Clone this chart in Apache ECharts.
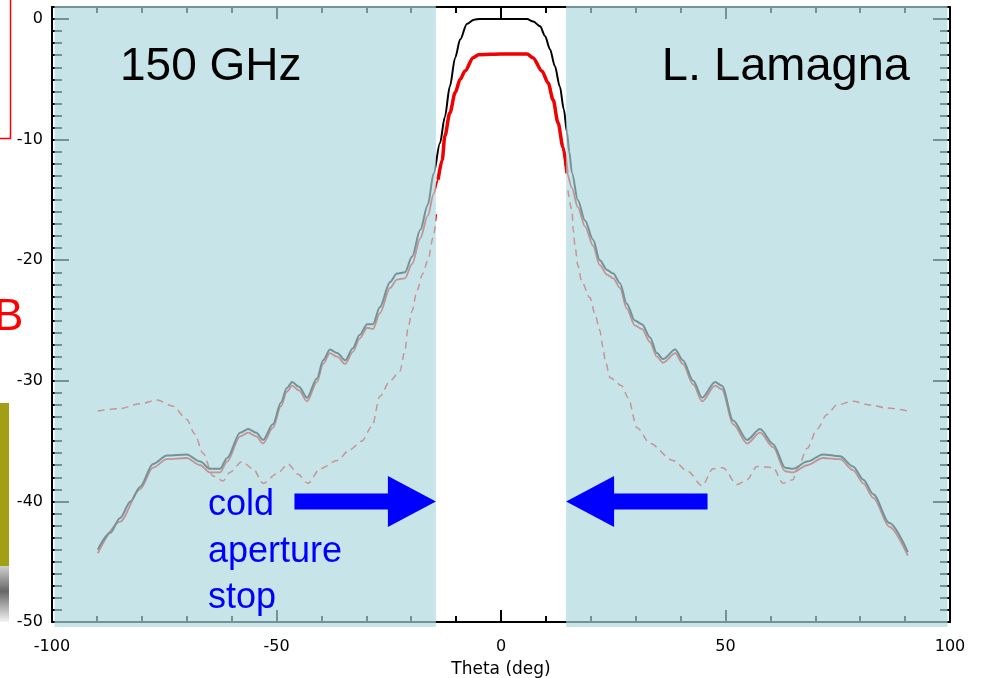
<!DOCTYPE html>
<html>
<head>
<meta charset="utf-8">
<title>150 GHz beam pattern</title>
<script src="https://cdn.jsdelivr.net/npm/echarts@6/dist/echarts.min.js"></script>
<style>
  html, body { margin: 0; padding: 0; background: #ffffff; }
  #chart { width: 984px; height: 678px; }
</style>
</head>
<body>
<div id="chart"></div>
<script>
// Angular range of the plot (deg) and power range (dB)
const thetaRange = [-100, 100];
const powerRange = [-50, 1];

// Full beam (black), angle in deg and power in dB
const thetaBlack = [
  -89.8, -87, -84.9, -82.5, -80.4, -77.5, -74.4, -70, -67, -64.8, -62.6, -61, -58.1, -56.3,
  -54.5, -53, -50.8, -49, -47.7, -46.5, -45, -43.2, -41, -39.6, -38.1, -36.5, -34.7, -33,
  -31.5, -29.8, -28.5, -27, -24.7, -23.2, -21.4, -19.8, -18, -16.3, -15, -13.6, -12.5, -11.4,
  -10.2, -9.1, -7.6, -6, -4.7, 0, 5.8, 7.2, 8.7, 9.8, 10.9, 12, 13.1, 14, 14.7, 15.2, 15.8,
  17.1, 18.7, 20.5, 22, 23.6, 25, 26.5, 28, 29.8, 31.4, 33.2, 34.7, 36.1, 38.8, 40.5, 42.8,
  44.8, 47.7, 49.2, 51.7, 54.8, 57.7, 60.6, 63.3, 65, 68.2, 71.7, 75.5, 78.4, 80.7, 82.9,
  86.5, 90.6
];
const powerBlack = [
  -44.0, -42.6, -41.4, -40.0, -38.8, -36.9, -36.2, -36.1, -36.7, -37.3, -37.3, -36.4, -34.3, -34.0,
  -34.3, -34.9, -33.6, -31.8, -30.6, -30.1, -30.5, -31.4, -29.8, -28.3, -27.4, -27.7, -28.3, -27.3,
  -26.2, -25.3, -25.3, -23.9, -21.8, -21.1, -21.0, -19.7, -17.5, -15.4, -12.8, -10.3, -8.1, -5.6,
  -3.2, -1.7, -0.4, -0.05, 0, 0, 0, -0.2, -0.6, -1.4, -2.5, -3.9, -5.6, -7.5, -9.4, -11.0, -12.75,
  -15.0, -16.7, -18.3, -20.0, -20.8, -21.1, -21.9, -23.6, -25.0, -25.3, -26.4, -27.7, -28.2, -27.4, -28.3, -30.0,
  -31.4, -30.1, -30.4, -33.3, -34.9, -34.0, -35.25, -37.2, -37.3, -36.7, -36.1, -36.25, -37.1, -38.2, -39.4,
  -41.8, -44.2
];

// Beam through the cold stop (red)
const thetaRed = [
  -89.8, -84.9, -80.4, -77.5, -74.4, -70, -67, -64.8, -62.6, -61, -58.1, -56.3, -54.5, -53,
  -50.8, -49, -47.7, -46.5, -45, -43.2, -41, -39.6, -38.1, -36.5, -34.7, -33, -31.5, -29.8,
  -28.5, -27, -24.7, -23.2, -21.4, -19.8, -18, -16.3, -15, -14, -13.1, -12.5, -11.4, -10.2,
  -9.1, -8, -6.2, -5, 0, 5.8, 7.1, 9.1, 10.5, 11.6, 12.7, 13.8, 14.7, 15.8, 17.1, 18.7, 20.5,
  22, 23.6, 25, 26.5, 28, 29.8, 31.4, 33.2, 34.7, 36.1, 38.8, 40.5, 42.8, 44.8, 47.7, 49.2,
  51.7, 54.8, 57.7, 60.6, 63.3, 65, 68.2, 71.7, 75.5, 78.4, 80.7, 82.9, 86.5, 90.6
];
const powerRed = [
  -44.3, -41.7, -39.0, -37.2, -36.5, -36.4, -37.0, -37.6, -37.6, -36.7, -34.6, -34.3, -34.6, -35.2,
  -33.9, -32.1, -30.9, -30.4, -30.8, -31.7, -30.1, -28.6, -27.7, -28.0, -28.6, -27.6, -26.5, -25.6,
  -25.7, -24.4, -22.3, -21.6, -21.5, -20.3, -18.2, -16.3, -14.5, -13.3, -11.7, -9.7, -7.8, -6.1,
  -5.0, -4.3, -3.2, -2.95, -2.9, -2.9, -3.2, -4.3, -5.3, -6.7, -8.6, -10.6, -12.8, -14.0, -15.6, -17.2, -18.8,
  -20.4, -21.2, -21.5, -22.3, -24.0, -25.4, -25.7, -26.8, -28.0, -28.5, -27.7, -28.6, -30.3, -31.7, -30.4, -30.7,
  -33.6, -35.2, -34.3, -35.5, -37.5, -37.6, -37.0, -36.4, -36.5, -37.4, -38.5, -39.7, -42.1, -44.5
];

// Dashed pattern, left side of the stop
const thetaDashedLeft = [
  -89.8, -84.9, -80.4, -76.6, -73, -70, -68.2, -66.4, -64.1, -61.9, -60.4, -57.7, -55.2, -53,
  -49.9, -47.4, -45.2, -43, -40.3, -36.5, -33.6, -31, -28.7, -27, -24.7, -22.5, -21.4, -20.7,
  -19.8, -18.7, -17.4, -16.3, -15.1, -14.3
];
const powerDashedLeft = [
  -32.5, -32.3, -31.9, -31.6, -32.1, -33.2, -34.4, -36.0, -37.9, -38.3, -37.6, -36.7, -37.3, -38.5,
  -37.7, -36.9, -37.75, -38.5, -37.3, -36.6, -35.7, -35.0, -33.75, -31.3, -30.0, -29.2, -27.5, -25.6,
  -24.2, -22.5, -21.1, -20.0, -18.1, -15.8
];

// Dashed pattern, right side of the stop
const thetaDashedRight = [
  14.9, 15.8, 16.1, 16.5, 17.1, 18, 19.8, 20.9, 22, 22.7, 23.2, 24.3, 26.9, 28.3, 30.3, 33.2,
  38.3, 41.6, 44.8, 47.2, 49.4, 52.6, 54.8, 57, 60.6, 62.8, 65, 66.1, 68.2, 70.4, 72.6, 74.8,
  78.4, 82.2, 86, 90.6
];
const powerDashedRight = [
  -14.2, -15.8, -17.5, -18.9, -20.4, -21.8, -23.1, -24.4, -25.8, -27.2, -28.3, -29.75, -30.4, -31.4, -33.9, -35.2,
  -36.6, -37.5, -38.7, -37.3, -37.2, -38.6, -38.2, -37.1, -37.2, -38.5, -38.2, -37.2, -35.6, -34.0, -32.8, -32.0,
  -31.7, -32.0, -32.25, -32.5
];

// Angles blocked by the cold aperture stop: [from, to] in deg
const stopRegions = [[-100, -14.5], [14.5, 100]];

// Arrows pointing at the stop edges: [tail angle, tip angle, power level]
const stopArrows = [[-46, -14.5, -40], [46, 14.5, -40]];

const pairs = (xs, ys) => xs.map((x, i) => [x, ys[i]]);
// red points that pass through the open part of the stop (drawn heavier)
const redOpen = pairs(thetaRed, powerRed).filter(p => Math.abs(p[0]) <= 14.7);

const chart = echarts.init(document.getElementById('chart'), null, { renderer: 'canvas' });

const axisLine = { show: true, onZero: false, lineStyle: { color: '#000', width: 2 } };
const noAxisLine = { show: false, onZero: false };
const tickStyle = { color: '#000', width: 2 };
const labelFont = { color: '#000', fontSize: 16, fontFamily: 'DejaVu Sans' };

function xAxisDef(position, withLabels) {
  return {
    type: 'value', position: position,
    min: thetaRange[0], max: thetaRange[1], interval: 50,
    axisLine: axisLine,
    axisTick: { show: true, inside: true, length: 12, lineStyle: tickStyle },
    minorTick: { show: true, splitNumber: 5, length: 6, lineStyle: tickStyle },
    splitLine: { show: false },
    axisLabel: withLabels ? Object.assign({ margin: 17 }, labelFont) : { show: false }
  };
}

function yAxisDef(position, interval, tickLen, withLine, withLabels) {
  return {
    type: 'value', position: position,
    min: powerRange[0], max: powerRange[1], interval: interval,
    axisLine: withLine ? axisLine : noAxisLine,
    axisTick: { show: true, inside: true, length: tickLen, lineStyle: tickStyle },
    splitLine: { show: false },
    axisLabel: withLabels
      ? Object.assign({ margin: 9, showMaxLabel: false,
          formatter: v => (v % 10 === 0 ? String(v) : '') }, labelFont)
      : { show: false }
  };
}

const xBottom = xAxisDef('bottom', true);
xBottom.name = 'Theta (deg)';
xBottom.nameLocation = 'middle';
xBottom.nameGap = 39;
xBottom.nameTextStyle = { color: '#000', fontSize: 17, fontFamily: 'DejaVu Sans' };

const lineBase = { type: 'line', z: 2, showSymbol: false, smooth: 0.3, smoothMonotone: 'x' };

const option = {
  animation: false,
  backgroundColor: '#ffffff',
  grid: { left: 52, right: 34, top: 7, bottom: 56, containLabel: false, outerBoundsMode: 'none' },
  xAxis: [xBottom, xAxisDef('top', false)],
  yAxis: [
    yAxisDef('left', 10, 17, true, true),
    yAxisDef('left', 1, 10, false, false),
    yAxisDef('right', 10, 17, true, false),
    yAxisDef('right', 1, 10, false, false)
  ],
  series: [
    Object.assign({}, lineBase, {
      name: 'dashed-left', data: pairs(thetaDashedLeft, powerDashedLeft),
      lineStyle: { color: '#ff0000', width: 1.5, type: [7, 5] }
    }),
    Object.assign({}, lineBase, {
      name: 'dashed-right', data: pairs(thetaDashedRight, powerDashedRight),
      lineStyle: { color: '#ff0000', width: 1.5, type: [7, 5] }
    }),
    Object.assign({}, lineBase, {
      name: 'red', data: pairs(thetaRed, powerRed),
      lineStyle: { color: '#f00000', width: 1.8 }
    }),
    Object.assign({}, lineBase, {
      name: 'black', data: pairs(thetaBlack, powerBlack),
      lineStyle: { color: '#000000', width: 2 }
    }),
    Object.assign({}, lineBase, {
      name: 'red-open', data: redOpen,
      lineStyle: { color: '#f00000', width: 3.5 }
    }),
    {
      // translucent cyan over the angles outside the cold stop
      name: 'stop', type: 'custom', z: 3, silent: true,
      data: stopRegions,
      renderItem: function (params, api) {
        const a0 = api.value(0), a1 = api.value(1);
        const p0 = api.coord([a0, powerRange[1]]);
        const p1 = api.coord([a1, powerRange[0]]);
        const x0 = p0[0] + (a0 <= thetaRange[0] ? 2.5 : 0);
        const x1 = p1[0] - (a1 >= thetaRange[1] ? 2.5 : 0);
        const y0 = p0[1] - 1;
        const y1 = p1[1] + 5;
        return {
          type: 'rect',
          shape: { x: x0, y: y0, width: x1 - x0, height: y1 - y0 },
          style: { fill: 'rgba(172,216,221,0.68)' }
        };
      }
    },
    {
      name: 'arrows', type: 'custom', z: 4, silent: true,
      data: stopArrows,
      renderItem: function (params, api) {
        const tail = api.coord([api.value(0), api.value(2)]);
        const tip = api.coord([api.value(1), api.value(2)]);
        const dir = tip[0] > tail[0] ? 1 : -1;
        const headLen = 48, headHalf = 25.5, shaftHalf = 8;
        const y = tip[1];
        const hx = tip[0] - dir * headLen;
        return {
          type: 'polygon',
          shape: { points: [
            [tail[0], y - shaftHalf], [hx, y - shaftHalf], [hx, y - headHalf], [tip[0], y],
            [hx, y + headHalf], [hx, y + shaftHalf], [tail[0], y + shaftHalf]
          ] },
          style: { fill: '#0000ff' }
        };
      }
    }
  ],
  graphic: [
    // fragments of the surrounding slide on the left edge
    { type: 'polyline', z: 100, shape: { points: [[10.5, 0], [10.5, 138.5], [0, 138.5]] },
      style: { stroke: '#ff0000', lineWidth: 1.5, fill: null } },
    { type: 'text', z: 100, style: { x: -6, y: 318, text: 'B', fill: '#ff0000',
      font: '44px "Liberation Sans", Arial, sans-serif', verticalAlign: 'middle' } },
    { type: 'rect', z: 100, shape: { x: 0, y: 403, width: 9, height: 163 }, style: { fill: '#a29f14' } },
    { type: 'rect', z: 100, shape: { x: 0, y: 566, width: 9, height: 56 },
      style: { fill: new echarts.graphic.LinearGradient(0, 0, 0, 1, [
        { offset: 0, color: '#d0d0d0' }, { offset: 0.45, color: '#666666' }, { offset: 1, color: '#f4f4f4' }
      ]) } },
    // annotations
    { type: 'text', z: 100, style: { x: 120, y: 67, text: '150 GHz', fill: '#000000',
      font: '46px "Liberation Sans", Arial, sans-serif', verticalAlign: 'middle' } },
    { type: 'text', z: 100, style: { x: 910, y: 67, text: 'L. Lamagna', fill: '#000000', align: 'right',
      font: '47px "Liberation Sans", Arial, sans-serif', verticalAlign: 'middle' } },
    { type: 'text', z: 100, style: { x: 208, y: 482, text: 'cold\naperture\nstop', fill: '#0000ff',
      font: '36px "Liberation Sans", Arial, sans-serif', lineHeight: 46.5, verticalAlign: 'top' } }
  ]
};

chart.setOption(option);
</script>
</body>
</html>
